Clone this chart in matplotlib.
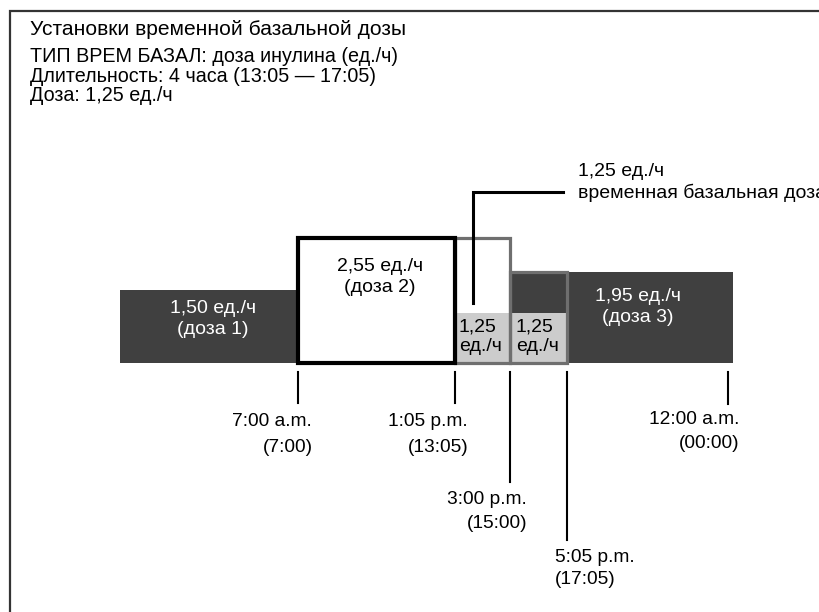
import numpy as np
import matplotlib
matplotlib.use("Agg")
import matplotlib.pyplot as plt

plt.rcParams["font.family"] = ["Liberation Sans", "DejaVu Sans"]

W, H = 820, 612
BASE_PX = 363  # pixel row of the zero-rate baseline

# basal programme (hours of day, units per hour)
dose_start = [0.0, 7.0, 15.0]
dose_end = [7.0, 15.0, 24.2]
dose_rate = [1.50, 2.55, 1.95]
dose_text = ["1,50 ед./ч\n(доза 1)", "2,55 ед./ч\n(доза 2)", "1,95 ед./ч\n(доза 3)"]

# temporary basal 13:05 - 17:05, split at the 15:00 dose change
temp_bounds = [13 + 5 / 60, 15.0, 17 + 5 / 60]
temp_rate = 1.25
temp_text = "1,25\nед./ч"

tick_hours = [7.0, 13 + 5 / 60, 15.0, 17 + 5 / 60, 24.0]
tick_12h = ["7:00 a.m.", "1:05 p.m.", "3:00 p.m.", "5:05 p.m.", "12:00 a.m."]
tick_24h = ["(7:00)", "(13:05)", "(15:00)", "(17:05)", "(00:00)"]

header_title = "Установки временной базальной дозы"
header_lines = [
    "ТИП ВРЕМ БАЗАЛ: доза инулина (ед./ч)",
    "Длительность: 4 часа (13:05 — 17:05)",
    "Доза: 1,25 ед./ч",
]
callout_lines = ["1,25 ед./ч", "временная базальная доза"]

DARK = "#404040"
LIGHT = "#cccccc"
OUTLINE = "#6f6f6f"

# schematic (not linear) layout of the time line and of the bar heights
X_KNOT_H = [-10, 0, 7, 13 + 5 / 60, 15, 17 + 5 / 60, 24, 40]
X_KNOT_PX = [-133, 120, 298, 455, 510, 567, 728, 1101]
Y_KNOT_R = [-10, 0, 1.25, 1.5, 1.95, 2.55, 10]
Y_KNOT_PX = [-490, 0, 50, 73, 91, 125, 490]


def x_fwd(h):
    return np.interp(h, X_KNOT_H, X_KNOT_PX)


def x_inv(p):
    return np.interp(p, X_KNOT_PX, X_KNOT_H)


def y_fwd(r):
    return np.interp(r, Y_KNOT_R, Y_KNOT_PX)


def y_inv(p):
    return np.interp(p, Y_KNOT_PX, Y_KNOT_R)


fig = plt.figure(figsize=(W / 100, H / 100), dpi=100)
ax = fig.add_axes([0, 0, 1, 1])
ax.set_xscale("function", functions=(x_fwd, x_inv))
ax.set_yscale("function", functions=(y_fwd, y_inv))
ax.set_xlim(x_inv(0), x_inv(W))
ax.set_ylim(y_inv(BASE_PX - H), y_inv(BASE_PX))
ax.axis("off")

# overlay in pixel coordinates for free-standing annotation
pax = fig.add_axes([0, 0, 1, 1])
pax.set_xlim(0, W)
pax.set_ylim(H, 0)
pax.axis("off")
pax.patch.set_alpha(0)

# dose 1 and dose 3 (dark)
ax.bar(dose_start[0], dose_rate[0], width=dose_end[0] - dose_start[0], align="edge",
       color=DARK, linewidth=0, zorder=1)
ax.bar(dose_start[2], dose_rate[2], width=dose_end[2] - dose_start[2], align="edge",
       color=DARK, linewidth=0, zorder=1)

# temporary basal pieces (light grey)
for left, right in zip(temp_bounds[:-1], temp_bounds[1:]):
    ax.bar(left, temp_rate, width=right - left, align="edge", color=LIGHT, linewidth=0, zorder=2)

# outlines of the replaced programme inside the temp window
for left, right in zip(temp_bounds[:-1], temp_bounds[1:]):
    level = dose_rate[1] if right <= dose_end[1] else dose_rate[2]
    ax.bar(left, level, width=right - left, align="edge", fill=False,
           edgecolor=OUTLINE, linewidth=2.3, zorder=3)

# dose 2 up to the start of the temp basal (white, heavy frame)
ax.bar(dose_start[1], dose_rate[1], width=temp_bounds[0] - dose_start[1], align="edge",
       facecolor="white", edgecolor="black", linewidth=3.0, zorder=4)

# bar captions
pax.text(213, 319, dose_text[0], color="white", fontsize=14, ha="center", va="center",
         linespacing=1.3, zorder=5)
pax.text(380, 277, dose_text[1], color="black", fontsize=14, ha="center", va="center",
         linespacing=1.3, zorder=5)
pax.text(638, 307, dose_text[2], color="white", fontsize=14, ha="center", va="center",
         linespacing=1.3, zorder=5)
for x_px in [459, 516]:
    pax.text(x_px, 337, temp_text, color="black", fontsize=14, ha="left", va="center",
             linespacing=1.2, zorder=5)

# callout
pax.plot([473, 473, 563], [303, 192, 192], color="black", linewidth=2.2, zorder=6,
         solid_joinstyle="miter")
pax.text(578, 172, callout_lines[0], fontsize=14, ha="left", va="center")
pax.text(578, 193, callout_lines[1], fontsize=14, ha="left", va="center")

# time marks below the bars
tick_bottom = [403, 403, 482, 540, 404]
label_x = [312, 468, 527, 555, 739]
label_ha = ["right", "right", "right", "left", "right"]
label_y1 = [422, 422, 500, 558, 419]
label_y2 = [448, 447, 523, 580, 443]
for hour, bottom, lx, ha, y1, y2, t12, t24 in zip(tick_hours, tick_bottom, label_x, label_ha,
                                                  label_y1, label_y2, tick_12h, tick_24h):
    xp = float(x_fwd(hour))
    pax.plot([xp, xp], [372, bottom], color="black", linewidth=1.5)
    pax.text(lx, y1, t12, fontsize=13.8, ha=ha, va="center")
    pax.text(lx + (1 if ha == "right" else 0), y2, t24, fontsize=13.8, ha=ha, va="center")

# header
pax.text(30, 35, header_title, fontsize=15.1, ha="left", va="baseline")
for i, line in enumerate(header_lines):
    pax.text(30, 62.5 + 19.3 * i, line, fontsize=14.2, ha="left", va="baseline")

# frame (only the top and left edges fall inside the picture)
pax.plot([10, 10, W + 5], [H + 5, 11, 11], color="#333333", linewidth=1.6,
         solid_joinstyle="miter", clip_on=False)

fig.savefig("out.png", dpi=100)
